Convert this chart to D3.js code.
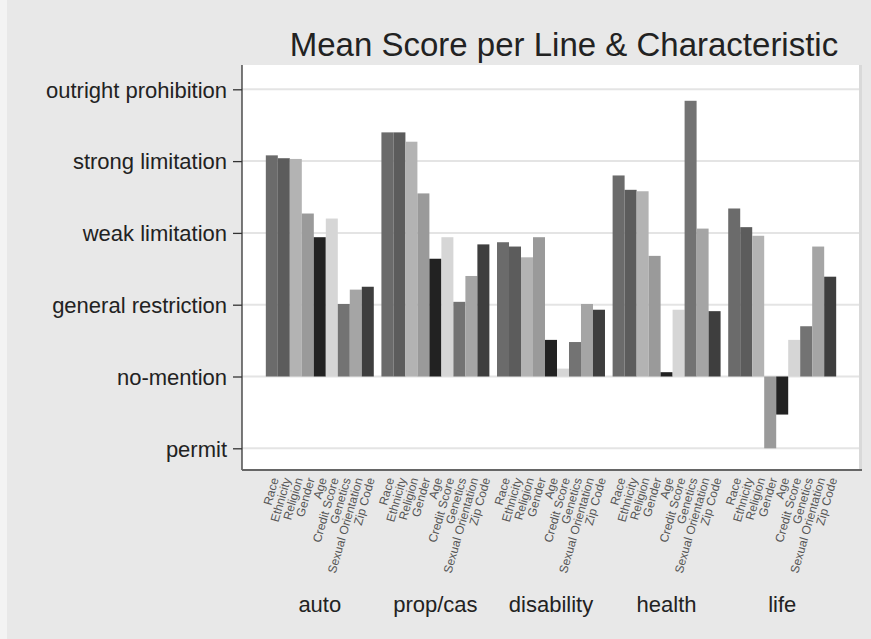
<!DOCTYPE html>
<html>
<head>
<meta charset="utf-8">
<script src="https://cdn.jsdelivr.net/npm/d3@7"></script>
<style>
  html, body { margin: 0; padding: 0; background: #e8e8e8; }
  svg { display: block; }
  text { font-family: "Liberation Sans", Arial, sans-serif; }
</style>
</head>
<body>
<svg id="chart" width="871" height="639"></svg>
<script>
// ---- data ----
const lines = ["auto", "prop/cas", "disability", "health", "life"];
const characteristics = ["Race", "Ethnicity", "Religion", "Gender", "Age", "Credit Score", "Genetics", "Sexual Orientation", "Zip Code"];
const autoScores       = [3.08, 3.04, 3.03, 2.27, 1.94, 2.20, 1.01, 1.21, 1.25];
const propCasScores    = [3.40, 3.40, 3.27, 2.55, 1.64, 1.94, 1.04, 1.40, 1.84];
const disabilityScores = [1.87, 1.81, 1.66, 1.94, 0.51, 0.11, 0.48, 1.01, 0.93];
const healthScores     = [2.80, 2.60, 2.58, 1.68, 0.06, 0.93, 3.84, 2.06, 0.91];
const lifeScores       = [2.34, 2.08, 1.96, -1.00, -0.53, 0.51, 0.70, 1.81, 1.39];
const tickValues = [-1, 0, 1, 2, 3, 4];
const tickLabels = ["permit", "no-mention", "general restriction", "weak limitation", "strong limitation", "outright prohibition"];
const barColors = ["#6b6b6b", "#5c5c5c", "#b3b3b3", "#9a9a9a", "#222222", "#d6d6d6", "#737373", "#a5a5a5", "#3e3e3e"];

const scoresByLine = [autoScores, propCasScores, disabilityScores, healthScores, lifeScores];
const rows = [];
lines.forEach((ln, i) => characteristics.forEach((c, j) => rows.push({ line: ln, ch: c, v: scoresByLine[i][j] })));

// ---- layout ----
const svg = d3.select("#chart");
const W = 871, H = 639;
const plot = { left: 242, right: 859, top: 65, bottom: 470 };

svg.append("rect").attr("x", 0).attr("y", 0).attr("width", W).attr("height", H).attr("fill", "#e8e8e8");
svg.append("rect").attr("x", 0).attr("y", 0).attr("width", 7).attr("height", H).attr("fill", "#f3f3f3");

// plot region
svg.append("rect").attr("x", plot.left).attr("y", plot.top)
  .attr("width", plot.right - plot.left).attr("height", plot.bottom - plot.top)
  .attr("fill", "#ffffff");
svg.append("line").attr("x1", plot.right + 1.5).attr("x2", plot.right + 1.5)
  .attr("y1", plot.top).attr("y2", plot.bottom).attr("stroke", "#d9d9d9").attr("stroke-width", 3);

const y = d3.scaleLinear().domain([-1, 4]).range([448.3, 89.3]);
const x0 = d3.scaleBand().domain(lines).range([262, 840]).paddingInner(0.066).paddingOuter(0.033);
const x1 = d3.scaleBand().domain(characteristics).range([0, x0.bandwidth()]);
const color = d3.scaleOrdinal().domain(characteristics).range(barColors);

// gridlines
svg.append("g").selectAll("line").data(tickValues).join("line")
  .attr("x1", plot.left).attr("x2", plot.right)
  .attr("y1", d => y(d)).attr("y2", d => y(d))
  .attr("stroke", "#e4e4e4").attr("stroke-width", 2);

// bars
svg.append("g").selectAll("rect").data(rows).join("rect")
  .attr("x", d => x0(d.line) + x1(d.ch))
  .attr("width", x1.bandwidth())
  .attr("y", d => Math.min(y(d.v), y(0)))
  .attr("height", d => Math.abs(y(d.v) - y(0)))
  .attr("fill", d => color(d.ch));

// y axis
const yAxis = d3.axisLeft(y).tickValues(tickValues)
  .tickFormat((d, i) => tickLabels[i]).tickSize(9).tickPadding(6);
const gy = svg.append("g").attr("transform", `translate(${plot.left},0)`).call(yAxis);
gy.select(".domain").remove();
gy.selectAll(".tick line").attr("stroke", "#333").attr("stroke-width", 1.3);
gy.selectAll(".tick text").attr("font-size", 22).attr("fill", "#222")
  .attr("font-family", "Liberation Sans, Arial, sans-serif").attr("dy", "0.35em");
svg.append("line").attr("x1", plot.left).attr("x2", plot.left)
  .attr("y1", plot.top).attr("y2", plot.bottom).attr("stroke", "#333").attr("stroke-width", 1.3);

// bottom axis line
svg.append("line").attr("x1", plot.left).attr("x2", plot.right + 3)
  .attr("y1", plot.bottom).attr("y2", plot.bottom).attr("stroke", "#666").attr("stroke-width", 2);

// characteristic labels (rotated)
svg.append("g").selectAll("text").data(rows).join("text")
  .attr("transform", d => `translate(${x0(d.line) + x1(d.ch) + x1.bandwidth() / 2 + 3},478) rotate(-74)`)
  .attr("text-anchor", "end")
  .attr("dy", "0.35em")
  .attr("font-size", 12)
  .attr("fill", "#555")
  .text(d => d.ch);

// group labels
svg.append("g").selectAll("text").data(lines).join("text")
  .attr("x", d => x0(d) + x0.bandwidth() / 2)
  .attr("y", 612)
  .attr("text-anchor", "middle")
  .attr("font-size", 22)
  .attr("fill", "#222")
  .text(d => d);

// title
svg.append("text").attr("x", 564).attr("y", 56).attr("text-anchor", "middle")
  .attr("font-size", 33).attr("fill", "#222")
  .text("Mean Score per Line & Characteristic");
</script>
</body>
</html>
